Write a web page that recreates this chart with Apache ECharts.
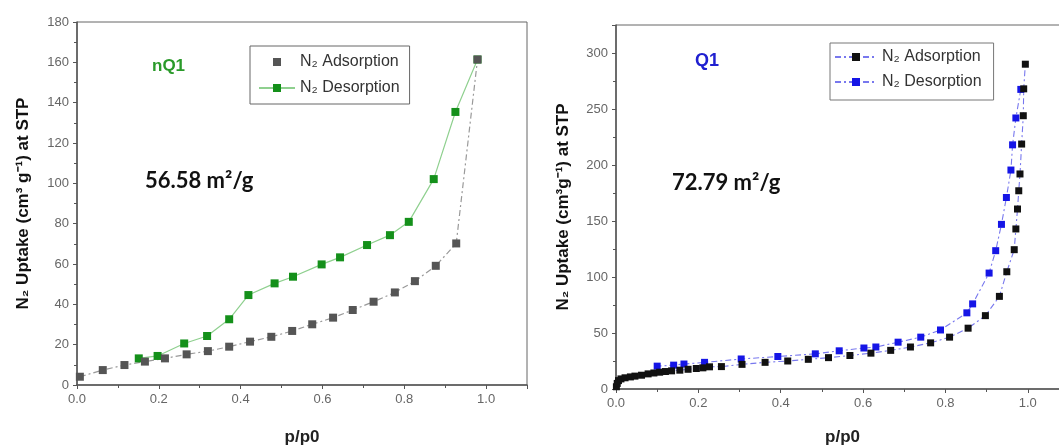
<!DOCTYPE html>
<html>
<head>
<meta charset="utf-8">
<script src="https://cdn.jsdelivr.net/npm/echarts@6/dist/echarts.min.js"></script>
<style>
  html, body { margin: 0; padding: 0; background: #fff; }
  #chart { width: 1059px; height: 448px; }
</style>
</head>
<body>
<div id="chart"></div>
<script>
// nQ1 isotherm (p/p0, uptake)
var nq1Adsorption = [
    [0.007, 4.1], [0.063, 7.4], [0.116, 9.9], [0.166, 11.6], [0.215, 13.2],
    [0.268, 15.2], [0.320, 16.8], [0.372, 19.0], [0.423, 21.5], [0.475, 23.9],
    [0.526, 26.8], [0.575, 30.1], [0.626, 33.4], [0.674, 37.2], [0.725, 41.3],
    [0.777, 45.9], [0.826, 51.5], [0.877, 59.1], [0.927, 70.2], [0.979, 161.4]
];
var nq1Desorption = [
    [0.979, 161.4], [0.925, 135.4], [0.872, 102.1], [0.811, 80.9], [0.765, 74.3],
    [0.709, 69.4], [0.643, 63.3], [0.598, 59.8], [0.528, 53.7], [0.483, 50.4],
    [0.419, 44.6], [0.372, 32.6], [0.318, 24.3], [0.262, 20.6], [0.197, 14.4],
    [0.151, 13.2]
];
// Q1 isotherm
var q1Adsorption = [
    [0.001, 2], [0.003, 5], [0.006, 7.5], [0.012, 9], [0.022, 10], [0.035, 10.8],
    [0.046, 11.5], [0.062, 12.3], [0.078, 13.5], [0.092, 14.3], [0.106, 15],
    [0.120, 15.6], [0.135, 16.2], [0.155, 16.8], [0.175, 17.6], [0.195, 18.3],
    [0.211, 18.9], [0.227, 19.8], [0.256, 20], [0.306, 22], [0.362, 23.8],
    [0.417, 25], [0.467, 26.5], [0.516, 28], [0.568, 29.9], [0.619, 32],
    [0.667, 34.5], [0.715, 37.5], [0.764, 41.2], [0.810, 46.3], [0.855, 54.3],
    [0.897, 65.5], [0.931, 82.7], [0.949, 104.7], [0.967, 124.4], [0.971, 142.9],
    [0.975, 160.7], [0.978, 177], [0.981, 192], [0.985, 218.7], [0.989, 244],
    [0.990, 268], [0.994, 290]
];
var q1Desorption = [
    [0.983, 267.5], [0.971, 242], [0.963, 218], [0.959, 195.5], [0.948, 171],
    [0.936, 147], [0.922, 123.5], [0.906, 103.5], [0.866, 76], [0.852, 68],
    [0.788, 52.7], [0.740, 46.3], [0.685, 41.8], [0.631, 37.5], [0.602, 36.6],
    [0.542, 34.1], [0.484, 31.4], [0.393, 29], [0.304, 26.8], [0.215, 23.8],
    [0.165, 22.3], [0.140, 21.3], [0.100, 20.4]
];
var seriesNames = ['N₂ Adsorption', 'N₂ Desorption'];
var yTitleLeft = 'N₂ Uptake (cm³ g⁻¹) at STP';
var yTitleRight = 'N₂ Uptake (cm³g⁻¹) at STP';
var xTitle = 'p/p0';

var chart = echarts.init(document.getElementById('chart'));
var FONT = 'Liberation Sans';

function xAxisCfg(idx, gap) {
    return {
        type: 'value', gridIndex: idx, min: 0, max: 1.1, interval: 0.2,
        name: xTitle, nameLocation: 'middle', nameGap: gap,
        nameTextStyle: { fontFamily: FONT, fontWeight: 'bold', fontSize: 17, color: '#222' },
        axisLine: { show: true, lineStyle: { color: '#555', width: 1.5 } },
        axisTick: { show: true, length: 4, lineStyle: { color: '#555' } },
        minorTick: { show: true, splitNumber: 2, length: 3, lineStyle: { color: '#555' } },
        splitLine: { show: false },
        axisLabel: {
            fontFamily: FONT, fontSize: 13, color: '#666', margin: 8,
            showMaxLabel: false,
            formatter: function (v) { return v.toFixed(1); }
        }
    };
}
function yAxisCfg(idx, max, interval, title, gap) {
    return {
        type: 'value', gridIndex: idx, min: 0, max: max, interval: interval,
        name: title, nameLocation: 'middle', nameGap: gap, nameRotate: 90,
        nameTextStyle: { fontFamily: FONT, fontWeight: 'bold', fontSize: 17, color: '#111' },
        axisLine: { show: true, lineStyle: { color: '#555', width: 1.5 } },
        axisTick: { show: true, length: 4, lineStyle: { color: '#555' } },
        minorTick: { show: true, splitNumber: 2, length: 3, lineStyle: { color: '#555' } },
        splitLine: { show: false },
        axisLabel: {
            fontFamily: FONT, fontSize: 13, color: '#666', margin: 8,
            showMaxLabel: max % interval === 0
        }
    };
}

var option = {
    animation: false,
    backgroundColor: '#fff',
    grid: [
        { left: 77, right: 532, top: 22, bottom: 63, show: true, borderColor: '#666', borderWidth: 1, outerBoundsMode: 'none' },
        { left: 616, right: -10, top: 25, bottom: 59, show: true, borderColor: '#666', borderWidth: 1, outerBoundsMode: 'none' }
    ],
    xAxis: [xAxisCfg(0, 44), xAxisCfg(1, 40)],
    yAxis: [
        yAxisCfg(0, 180, 20, yTitleLeft, 45),
        yAxisCfg(1, 325, 50, yTitleRight, 44)
    ],
    legend: [
        {
            left: 250, top: 46, orient: 'vertical', itemGap: 10,
            itemWidth: 36, itemHeight: 10,
            borderColor: '#666', borderWidth: 1, padding: [8, 10, 8, 8],
            textStyle: { fontFamily: FONT, fontSize: 16, color: '#333' },
            data: [
                { name: 'nq1a', lineStyle: { opacity: 0 } },
                { name: 'nq1d' }
            ],
            formatter: function (n) { return n === 'nq1a' ? seriesNames[0] : seriesNames[1]; }
        },
        {
            left: 830, top: 43, orient: 'vertical', itemGap: 9,
            itemWidth: 42, itemHeight: 10,
            borderColor: '#777', borderWidth: 1, padding: [6, 12, 10, 4],
            textStyle: { fontFamily: FONT, fontSize: 16, color: '#333' },
            data: ['q1a', 'q1d'],
            formatter: function (n) { return n === 'q1a' ? seriesNames[0] : seriesNames[1]; }
        }
    ],
    graphic: [
        { type: 'text', left: 152, top: 58, style: { text: 'nQ1', fill: '#2a9a2a', font: 'bold 17px "Liberation Sans"' } },
        { type: 'text', left: 695, top: 52, style: { text: 'Q1', fill: '#2020d0', font: 'bold 18px "Liberation Sans"' } },
        { type: 'text', left: 145, top: 170, style: { text: '56.58 m²/g', fill: '#111', font: 'bold 22px Lato' } },
        { type: 'text', left: 672, top: 172, style: { text: '72.79 m²/g', fill: '#111', font: 'bold 22px Lato' } }
    ],
    series: [
        {
            name: 'nq1d', type: 'line', xAxisIndex: 0, yAxisIndex: 0,
            data: nq1Desorption, symbol: 'rect', symbolSize: 8,
            itemStyle: { color: '#14901a' },
            lineStyle: { color: '#8fd08f', width: 1.2 }
        },
        {
            name: 'nq1a', type: 'line', xAxisIndex: 0, yAxisIndex: 0,
            data: nq1Adsorption, symbol: 'rect', symbolSize: 8,
            itemStyle: { color: '#555' },
            lineStyle: { color: '#999', width: 1.2, type: [6, 3, 2, 3] }
        },
        {
            name: 'q1d', type: 'line', xAxisIndex: 1, yAxisIndex: 1,
            data: q1Desorption, symbol: 'rect', symbolSize: 7,
            itemStyle: { color: '#1515e6' },
            lineStyle: { color: '#7878ee', width: 1.1, type: [6, 3, 2, 3] }
        },
        {
            name: 'q1a', type: 'line', xAxisIndex: 1, yAxisIndex: 1,
            data: q1Adsorption, symbol: 'rect', symbolSize: 7,
            itemStyle: { color: '#111' },
            lineStyle: { color: '#7878ee', width: 1.1, type: [6, 3, 2, 3] }
        }
    ]
};
chart.setOption(option);
window.addEventListener('resize', chart.resize);
</script>
</body>
</html>
